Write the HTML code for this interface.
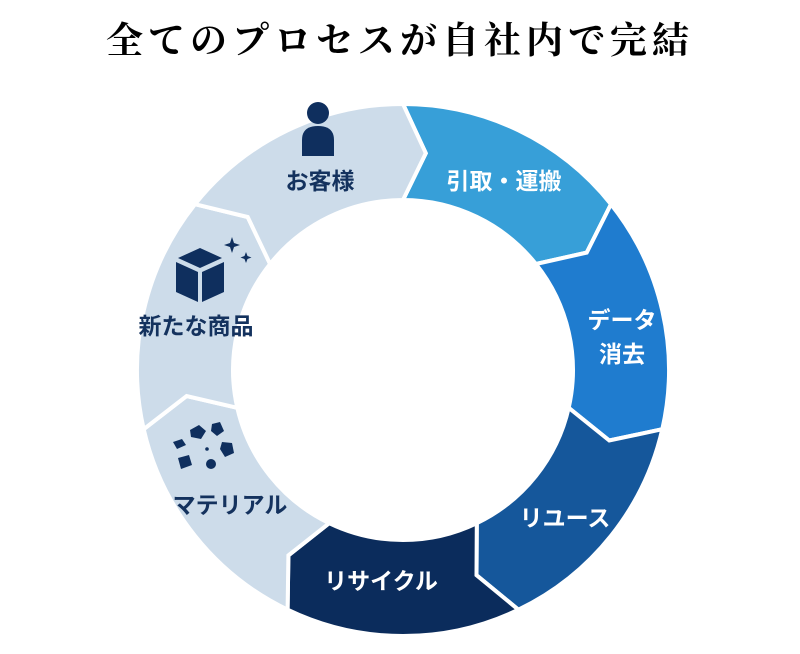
<!DOCTYPE html>
<html><head><meta charset="utf-8">
<style>
html,body{margin:0;padding:0;background:#fff;width:800px;height:654px;overflow:hidden}
.t{position:absolute;left:0;top:10px;width:800px;text-align:center;font-family:"Liberation Serif","Noto Serif CJK SC",serif;font-size:37px;letter-spacing:5px;color:#000;font-weight:bold}
svg{position:absolute;left:0;top:0}
text{font-family:"Liberation Sans","Noto Sans CJK JP",sans-serif;font-weight:bold;font-size:23px;text-anchor:middle;dominant-baseline:middle}
</style></head><body>
<div class="t">全てのプロセスが自社内で完結</div>
<svg width="800" height="654" viewBox="0 0 800 654">
<g id="segs"></g>
<g fill="#0f2f5e">
<circle cx="318" cy="113" r="11"/>
<path d="M302 156 L302 140 Q302 126 318 126 Q334 126 334 140 L334 156 Z"/>
<path d="M178 258 L200 248 L222 258 L200 268 Z"/>
<path d="M176 262 L198 272 L198 302 L176 292 Z"/>
<path d="M202 272 L224 262 L224 292 L202 302 Z" />
<path d="M232 237 l2 6 l6 2 l-6 2 l-2 6 l-2 -6 l-6 -2 l6 -2 Z"/>
<path d="M246 252 l1.5 4 l4 1.5 l-4 1.5 l-1.5 4 l-1.5 -4 l-4 -1.5 l4 -1.5 Z"/>
<path d="M190 430 l9 -5 l7 6 l-5 8 l-10 -2 Z"/>
<path d="M212 424 l8 -2 l4 9 l-7 5 l-6 -5 Z"/>
<path d="M173 442 l9 -3 l4 6 l-9 4 Z"/>
<path d="M222 442 l10 1 l2 10 l-9 4 l-5 -8 Z"/>
<path d="M178 458 l11 -3 l3 10 l-11 4 Z"/>
<circle cx="211" cy="464" r="5"/>
<circle cx="207" cy="449" r="1.8"/>
</g>
<g fill="#14325e">
<text x="320" y="183">お客様</text>
<text x="196" y="328">新たな商品</text>
<text x="230" y="507">マテリアル</text>
</g>
<g fill="#fff">
<text x="504" y="183">引取・運搬</text>
<text x="622" y="322">データ</text>
<text x="622" y="356">消去</text>
<text x="565" y="520">リユース</text>
<text x="381" y="583">リサイクル</text>
</g>
</svg>
<script>
(function(){
var cx=403,cy=370,R=266,r=170,d=6;
var cols=["#379fd8","#1f7ccf","#15579b","#0b2c5c","#cddcea","#cddcea","#cddcea"];
function p(a,rad){var t=(a-90)*Math.PI/180;return (cx+rad*Math.cos(t)).toFixed(1)+" "+(cy+rad*Math.sin(t)).toFixed(1);}
var g=document.getElementById("segs"),s="";
for(var i=0;i<7;i++){
 var a0=i*360/7,a1=(i+1)*360/7,m=(R+r)/2;
 var dd="M"+p(a0,R)+" A"+R+" "+R+" 0 0 1 "+p(a1,R)+" L"+p(a1+d,m)+" L"+p(a1,r)+
  " A"+r+" "+r+" 0 0 0 "+p(a0,r)+" L"+p(a0+d,m)+" Z";
 s+='<path d="'+dd+'" fill="'+cols[i]+'" stroke="#fff" stroke-width="4" stroke-linejoin="miter"/>';
}
g.innerHTML=s;
})();
</script>
</body></html>
